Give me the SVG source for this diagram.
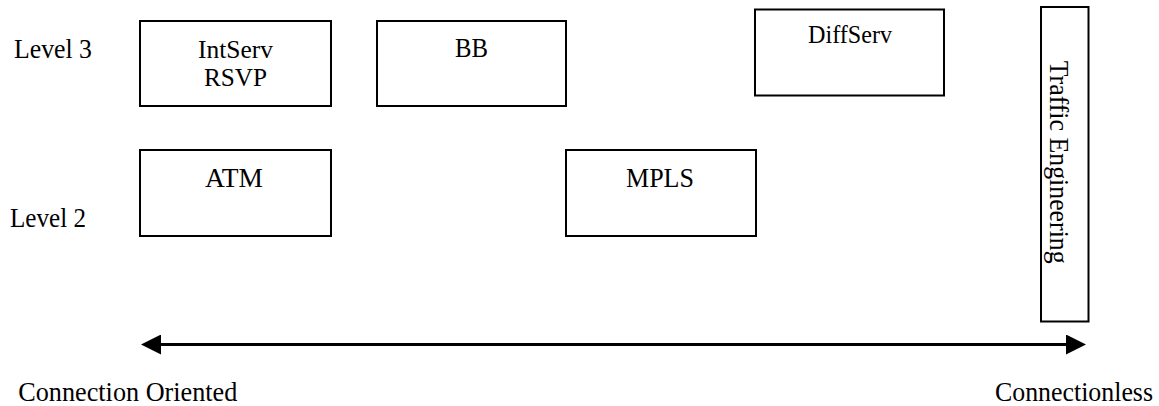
<svg xmlns="http://www.w3.org/2000/svg" width="1159" height="406" viewBox="0 0 1159 406">
<style>
  .box { fill: #ffffff; stroke: #000000; stroke-width: 2; }
  .t { font-family: "Liberation Serif", "Times New Roman", serif; font-size: 26.5px; fill: #000000; }
  .s { font-size: 25px; }
  .c { text-anchor: middle; }
  .axis { stroke: #000000; stroke-width: 3; fill: none; }
</style>
<defs>
  <marker id="arrow" markerUnits="userSpaceOnUse" markerWidth="20" markerHeight="20" refX="11" refY="10" orient="auto-start-reverse" viewBox="0 0 20 20">
    <path d="M0,0 L20,10 L0,20 z" fill="#000000"/>
  </marker>
</defs>
<rect width="1159" height="406" fill="#ffffff"/>

<g id="label-level3"><text class="t" x="14" y="57.7" textLength="78" lengthAdjust="spacingAndGlyphs">Level 3</text></g>
<g id="label-level2"><text class="t" x="10" y="226.7" textLength="76" lengthAdjust="spacingAndGlyphs">Level 2</text></g>

<g id="intserv">
  <rect class="box" x="140" y="21" width="191" height="85"/>
  <text class="t s c" x="235.5" y="57.5" textLength="75" lengthAdjust="spacingAndGlyphs">IntServ</text>
  <text class="t s c" x="235.5" y="85.5" textLength="63" lengthAdjust="spacingAndGlyphs">RSVP</text>
</g>
<g id="bb">
  <rect class="box" x="377" y="21" width="189" height="85"/>
  <text class="t c" x="471.5" y="57" textLength="33" lengthAdjust="spacingAndGlyphs">BB</text>
</g>
<g id="diffserv">
  <rect class="box" x="755" y="9.5" width="189" height="86"/>
  <text class="t c" x="850" y="43" textLength="84" lengthAdjust="spacingAndGlyphs" style="font-size:24.5px">DiffServ</text>
</g>
<g id="atm">
  <rect class="box" x="140" y="150" width="191" height="86"/>
  <text class="t c" x="234" y="186.7" textLength="58" lengthAdjust="spacingAndGlyphs">ATM</text>
</g>
<g id="mpls">
  <rect class="box" x="566" y="150" width="190" height="86"/>
  <text class="t c" x="660" y="186.7" textLength="68" lengthAdjust="spacingAndGlyphs">MPLS</text>
</g>
<g id="traffic-engineering">
  <rect class="box" x="1041" y="7" width="47.5" height="314.5"/>
  <text class="t" transform="translate(1050,60.7) rotate(90)" x="0" y="0" textLength="203" lengthAdjust="spacingAndGlyphs">Traffic Engineering</text>
</g>

<g id="connectors">
  <line class="axis" x1="150" y1="344.5" x2="1077" y2="344.5" marker-start="url(#arrow)" marker-end="url(#arrow)"/>
</g>

<g id="label-oriented"><text class="t" x="18.3" y="401" textLength="219" lengthAdjust="spacingAndGlyphs">Connection Oriented</text></g>
<g id="label-connectionless"><text class="t" x="995" y="401" textLength="158" lengthAdjust="spacingAndGlyphs">Connectionless</text></g>
</svg>
